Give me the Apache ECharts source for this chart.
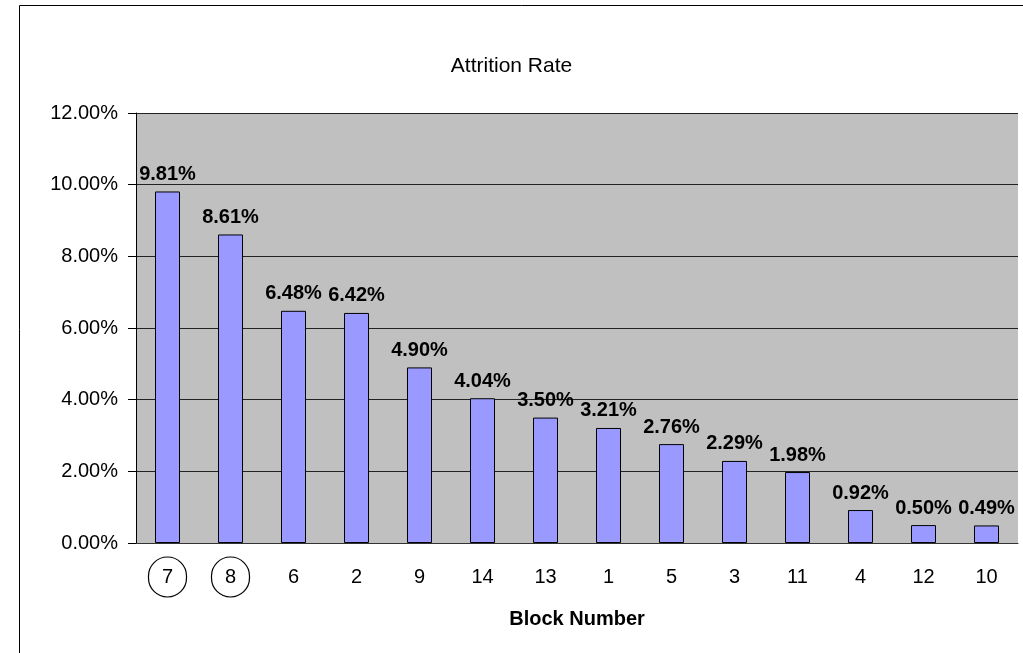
<!DOCTYPE html>
<html>
<head>
<meta charset="utf-8">
<script src="https://cdn.jsdelivr.net/npm/echarts@6/dist/echarts.min.js"></script>
<title>Attrition Rate</title>
</head>
<body style="margin:0">
<div id="container" style="width:1023px;height:653px"></div>
<script type="text/javascript">
// block numbers, sorted by attrition
let blocks = ['7', '8', '6', '2', '9', '14', '13', '1', '5', '3', '11', '4', '12', '10'];
let rates = [9.81, 8.61, 6.48, 6.42, 4.90, 4.04, 3.50, 3.21, 2.76, 2.29, 1.98, 0.92, 0.50, 0.49];
let circled = ['7', '8'];

let chart = echarts.init(document.getElementById('container'));
chart.setOption({
    animation: false,
    textStyle: { fontFamily: 'Liberation Sans, Arial, sans-serif' },
    title: {
        text: 'Attrition Rate',
        left: 'center',
        top: 51,
        textStyle: { fontSize: 21, fontWeight: 'normal', color: '#000' }
    },
    graphic: [{
        type: 'rect',
        shape: { x: 19.5, y: 5.5, width: 1010, height: 660 },
        style: { fill: 'none', stroke: '#000', lineWidth: 1 },
        silent: true
    }],
    grid: { left: 136, top: 113, right: 5, bottom: 110, backgroundColor: '#c0c0c0', show: true, borderWidth: 0 },
    xAxis: {
        type: 'category',
        data: blocks,
        name: 'Block Number',
        nameLocation: 'middle',
        nameGap: 66,
        nameTextStyle: { fontSize: 20, fontWeight: 'bold', color: '#000' },
        axisLine: { lineStyle: { color: '#333' } },
        axisTick: { length: 8, lineStyle: { color: '#000' } },
        axisLabel: {
            interval: 0,
            fontSize: 20,
            color: '#000',
            margin: 14,
            formatter: v => circled.includes(v) ? '{c|' + v + '}' : '{n|' + v + '}',
            rich: {
                c: { fontSize: 20, width: 38, height: 40, lineHeight: 40, align: 'center',
                     borderColor: '#000', borderWidth: 1.2, borderRadius: 20 },
                n: { fontSize: 20, height: 40, lineHeight: 40 }
            }
        }
    },
    yAxis: {
        type: 'value',
        min: 0,
        max: 12,
        interval: 2,
        axisLine: { show: true, lineStyle: { color: '#000' } },
        axisTick: { show: true, length: 8, lineStyle: { color: '#000' } },
        axisLabel: { fontSize: 20, color: '#000', margin: 18, formatter: v => v.toFixed(2) + '%' },
        splitLine: { lineStyle: { color: '#222', width: 1 } }
    },
    series: [{
        type: 'bar',
        data: rates,
        barWidth: 25,
        itemStyle: { color: '#9999ff', borderColor: '#000', borderWidth: 1 },
        label: {
            show: true,
            position: 'top',
            distance: 7,
            fontSize: 20,
            fontWeight: 'bold',
            color: '#000',
            formatter: p => p.value.toFixed(2) + '%'
        }
    }]
});
</script>
</body>
</html>
